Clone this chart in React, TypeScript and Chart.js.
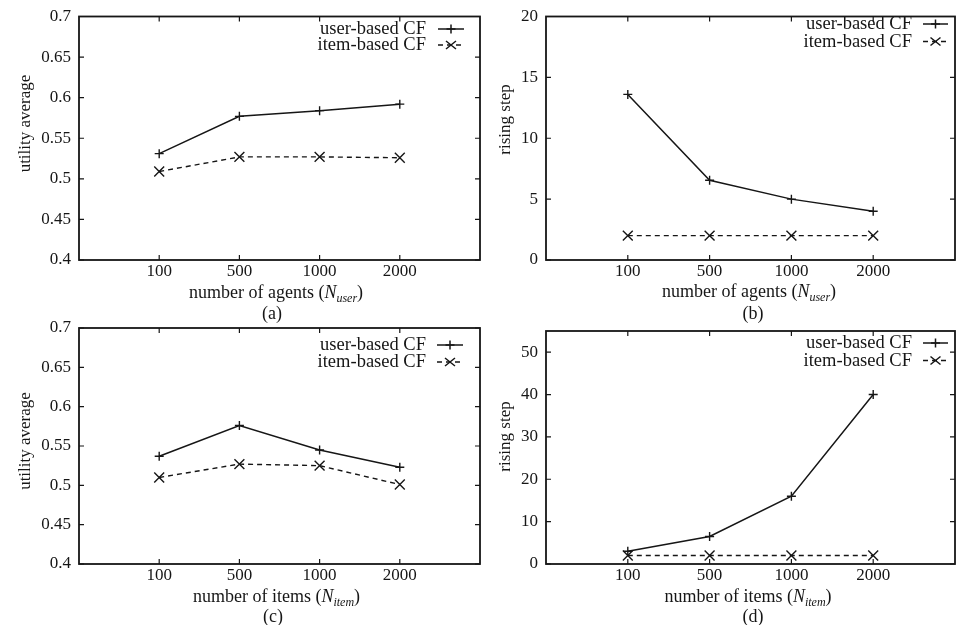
import React, { useEffect, useRef } from 'react';
import { Chart, registerables } from 'chart.js';

Chart.register(...registerables);

const FONT = '"Liberation Serif", "Times New Roman", serif';
const INK = '#161616';

// ---------- data ----------
const categories = ['100', '500', '1000', '2000'];
const seriesLabels = ['user-based CF', 'item-based CF'];

const utilAgentsUser = [0.531, 0.577, 0.584, 0.592];
const utilAgentsItem = [0.509, 0.527, 0.527, 0.526];
const stepAgentsUser = [13.6, 6.55, 5.0, 4.0];
const stepAgentsItem = [2, 2, 2, 2];
const utilItemsUser = [0.537, 0.576, 0.545, 0.523];
const utilItemsItem = [0.51, 0.527, 0.525, 0.501];
const stepItemsUser = [3, 6.5, 16, 40];
const stepItemsItem = [2, 2, 2, 2];

const utilityTicks = [0.4, 0.45, 0.5, 0.55, 0.6, 0.65, 0.7];
const utilityTickLabels = ['0.4', '0.45', '0.5', '0.55', '0.6', '0.65', '0.7'];
const stepAgentsTicks = [0, 5, 10, 15, 20];
const stepAgentsTickLabels = ['0', '5', '10', '15', '20'];
const stepItemsTicks = [0, 10, 20, 30, 40, 50];
const stepItemsTickLabels = ['0', '10', '20', '30', '40', '50'];

// ---------- layout ----------
const W = 964;
const H = 625;
const X_AXIS_H = 40;
const TICK = 5;

type Panel = {
  key: string;
  user: number[];
  item: number[];
  yMin: number;
  yMax: number;
  yTicks: number[];
  yTickLabels: string[];
  yTitle: string;
  xWord: string;
  xSub: string;
  caption: string;
  colLeft: number;
  plot: { left: number; top: number; right: number; bottom: number };
  yTitlePos: { x: number; y: number };
  xTitlePos: { x: number; y: number };
  captionPos: { x: number; y: number };
  legendTextRight: number;
  legendLine: [number, number];
  legendRows: [number, number];
};

const panels: Panel[] = [
  {
    key: 'a',
    user: utilAgentsUser,
    item: utilAgentsItem,
    yMin: 0.4,
    yMax: 0.7,
    yTicks: utilityTicks,
    yTickLabels: utilityTickLabels,
    yTitle: 'utility average',
    xWord: 'number of agents (',
    xSub: 'user',
    caption: '(a)',
    colLeft: 0,
    plot: { left: 79, top: 12, right: 480, bottom: 260 },
    yTitlePos: { x: 29.5, y: 123.5 },
    xTitlePos: { x: 276, y: 298 },
    captionPos: { x: 272, y: 319 },
    legendTextRight: 426,
    legendLine: [438, 464],
    legendRows: [29, 45],
  },
  {
    key: 'b',
    user: stepAgentsUser,
    item: stepAgentsItem,
    yMin: 0,
    yMax: 20,
    yTicks: stepAgentsTicks,
    yTickLabels: stepAgentsTickLabels,
    yTitle: 'rising step',
    xWord: 'number of agents (',
    xSub: 'user',
    caption: '(b)',
    colLeft: 482,
    plot: { left: 546, top: 10, right: 955, bottom: 260 },
    yTitlePos: { x: 509.6, y: 119.5 },
    xTitlePos: { x: 749, y: 297 },
    captionPos: { x: 753, y: 319 },
    legendTextRight: 912,
    legendLine: [923, 948],
    legendRows: [24, 41.5],
  },
  {
    key: 'c',
    user: utilItemsUser,
    item: utilItemsItem,
    yMin: 0.4,
    yMax: 0.7,
    yTicks: utilityTicks,
    yTickLabels: utilityTickLabels,
    yTitle: 'utility average',
    xWord: 'number of items (',
    xSub: 'item',
    caption: '(c)',
    colLeft: 0,
    plot: { left: 79, top: 328, right: 480, bottom: 564 },
    yTitlePos: { x: 29.5, y: 441 },
    xTitlePos: { x: 276.5, y: 602 },
    captionPos: { x: 273, y: 622 },
    legendTextRight: 426,
    legendLine: [437, 463],
    legendRows: [345, 362],
  },
  {
    key: 'd',
    user: stepItemsUser,
    item: stepItemsItem,
    yMin: 0,
    yMax: 55,
    yTicks: stepItemsTicks,
    yTickLabels: stepItemsTickLabels,
    yTitle: 'rising step',
    xWord: 'number of items (',
    xSub: 'item',
    caption: '(d)',
    colLeft: 482,
    plot: { left: 546, top: 331, right: 955, bottom: 564 },
    yTitlePos: { x: 509.6, y: 436.5 },
    xTitlePos: { x: 748, y: 602 },
    captionPos: { x: 753, y: 622 },
    legendTextRight: 912,
    legendLine: [923, 948],
    legendRows: [343, 360.5],
  },
];

function makeDecor(p: Panel) {
  return {
    id: 'decor_' + p.key,
    afterDraw(chart: any) {
      const { ctx, chartArea: ca } = chart;
      const xs = chart.scales.x;
      const ys = chart.scales.y;
      ctx.save();
      ctx.setLineDash([]);
      ctx.strokeStyle = INK;
      ctx.lineWidth = 1.8;
      ctx.strokeRect(ca.left, ca.top, ca.right - ca.left, ca.bottom - ca.top);

      ctx.lineWidth = 1.2;
      ctx.beginPath();
      ys.ticks.forEach((t: any) => {
        const y = ys.getPixelForValue(t.value);
        ctx.moveTo(ca.left, y);
        ctx.lineTo(ca.left + TICK, y);
        ctx.moveTo(ca.right, y);
        ctx.lineTo(ca.right - TICK, y);
      });
      xs.ticks.forEach((t: any) => {
        const x = xs.getPixelForValue(t.value);
        ctx.moveTo(x, ca.bottom);
        ctx.lineTo(x, ca.bottom - TICK);
        ctx.moveTo(x, ca.top);
        ctx.lineTo(x, ca.top + TICK);
      });
      ctx.stroke();

      ctx.fillStyle = INK;

      // y title
      ctx.save();
      ctx.font = `17px ${FONT}`;
      ctx.translate(p.yTitlePos.x, p.yTitlePos.y);
      ctx.rotate(-Math.PI / 2);
      ctx.textAlign = 'center';
      ctx.textBaseline = 'alphabetic';
      ctx.fillText(p.yTitle, 0, 0);
      ctx.restore();

      // x title with subscript
      const parts = [
        { t: p.xWord, f: `18px ${FONT}`, dy: 0 },
        { t: 'N', f: `italic 18px ${FONT}`, dy: 0 },
        { t: p.xSub, f: `italic 12px ${FONT}`, dy: 4 },
        { t: ')', f: `18px ${FONT}`, dy: 0 },
      ];
      ctx.textAlign = 'left';
      ctx.textBaseline = 'alphabetic';
      let total = 0;
      const widths = parts.map((pt) => {
        ctx.font = pt.f;
        const w = ctx.measureText(pt.t).width;
        total += w;
        return w;
      });
      let x0 = p.xTitlePos.x - total / 2;
      parts.forEach((pt, i) => {
        ctx.font = pt.f;
        ctx.fillText(pt.t, x0, p.xTitlePos.y + pt.dy);
        x0 += widths[i];
      });

      // caption
      ctx.font = `18px ${FONT}`;
      ctx.textAlign = 'center';
      ctx.fillText(p.caption, p.captionPos.x, p.captionPos.y);

      // legend
      ctx.font = `18.5px ${FONT}`;
      ctx.textAlign = 'right';
      seriesLabels.forEach((lab, i) => {
        const ly = p.legendRows[i];
        ctx.fillText(lab, p.legendTextRight, ly + 5);
        const [l1, l2] = p.legendLine;
        ctx.lineWidth = 1.5;
        ctx.setLineDash(i === 1 ? [5, 4] : []);
        ctx.beginPath();
        ctx.moveTo(l1, ly);
        ctx.lineTo(l2, ly);
        ctx.stroke();
        ctx.setLineDash([]);
        const mx = (l1 + l2) / 2;
        ctx.beginPath();
        if (i === 0) {
          ctx.moveTo(mx - 4.5, ly);
          ctx.lineTo(mx + 4.5, ly);
          ctx.moveTo(mx, ly - 4.5);
          ctx.lineTo(mx, ly + 4.5);
        } else {
          const r = 5;
          ctx.moveTo(mx - r, ly - r * 0.8);
          ctx.lineTo(mx + r, ly + r * 0.8);
          ctx.moveTo(mx - r, ly + r * 0.8);
          ctx.lineTo(mx + r, ly - r * 0.8);
        }
        ctx.stroke();
      });

      ctx.restore();
    },
  };
}

function PanelChart({ p }: { p: Panel }) {
  const ref = useRef<HTMLCanvasElement | null>(null);
  useEffect(() => {
    if (!ref.current) return;
    const chart = new Chart(ref.current, {
      type: 'line',
      data: {
        datasets: [
          {
            label: seriesLabels[0],
            data: p.user.map((v, i) => ({ x: i + 1, y: v })),
            borderColor: INK,
            backgroundColor: INK,
            borderWidth: 1.5,
            pointStyle: 'cross',
            pointRadius: 4.5,
            pointBorderWidth: 1.4,
            pointBorderColor: INK,
            fill: false,
            tension: 0,
          },
          {
            label: seriesLabels[1],
            data: p.item.map((v, i) => ({ x: i + 1, y: v })),
            borderColor: INK,
            backgroundColor: INK,
            borderWidth: 1.4,
            borderDash: [5, 4],
            pointStyle: 'crossRot',
            pointRadius: 7,
            pointBorderWidth: 1.4,
            pointBorderColor: INK,
            fill: false,
            tension: 0,
          },
        ],
      } as any,
      options: {
        responsive: false,
        animation: false,
        devicePixelRatio: 1,
        events: [],
        layout: {
          padding: {
            left: p.colLeft,
            top: p.plot.top,
            right: W - p.plot.right,
            bottom: H - p.plot.bottom - X_AXIS_H,
          },
        },
        plugins: {
          legend: { display: false },
          tooltip: { enabled: false },
          title: { display: false },
        },
        scales: {
          x: {
            type: 'linear',
            min: 0,
            max: categories.length + 1,
            grid: { display: false, drawTicks: false },
            border: { display: false },
            afterBuildTicks: (s: any) => {
              s.ticks = categories.map((_, i) => ({ value: i + 1 }));
            },
            afterFit: (s: any) => {
              s.height = X_AXIS_H;
            },
            ticks: {
              autoSkip: false,
              maxRotation: 0,
              padding: 1,
              color: INK,
              font: { family: FONT, size: 17 },
              callback: (_v: any, idx: number) => categories[idx] ?? '',
            },
          },
          y: {
            type: 'linear',
            min: p.yMin,
            max: p.yMax,
            grid: { display: false, drawTicks: false },
            border: { display: false },
            afterBuildTicks: (s: any) => {
              s.ticks = p.yTicks.map((v) => ({ value: v }));
            },
            afterFit: (s: any) => {
              s.width = p.plot.left - p.colLeft;
            },
            ticks: {
              padding: 8,
              color: INK,
              font: { family: FONT, size: 17, lineHeight: 1 },
              callback: (_v: any, idx: number) => p.yTickLabels[idx] ?? '',
            },
          },
        },
      } as any,
      plugins: [makeDecor(p)],
    });
    return () => chart.destroy();
  }, [p]);
  return (
    <canvas
      ref={ref}
      width={W}
      height={H}
      style={{ position: 'absolute', left: 0, top: 0, width: W, height: H }}
    />
  );
}

export default function App() {
  return (
    <div
      style={{
        position: 'absolute',
        left: 0,
        top: 0,
        width: W,
        height: H,
        background: '#fff',
        overflow: 'hidden',
      }}
    >
      {panels.map((p) => (
        <PanelChart key={p.key} p={p} />
      ))}
    </div>
  );
}
